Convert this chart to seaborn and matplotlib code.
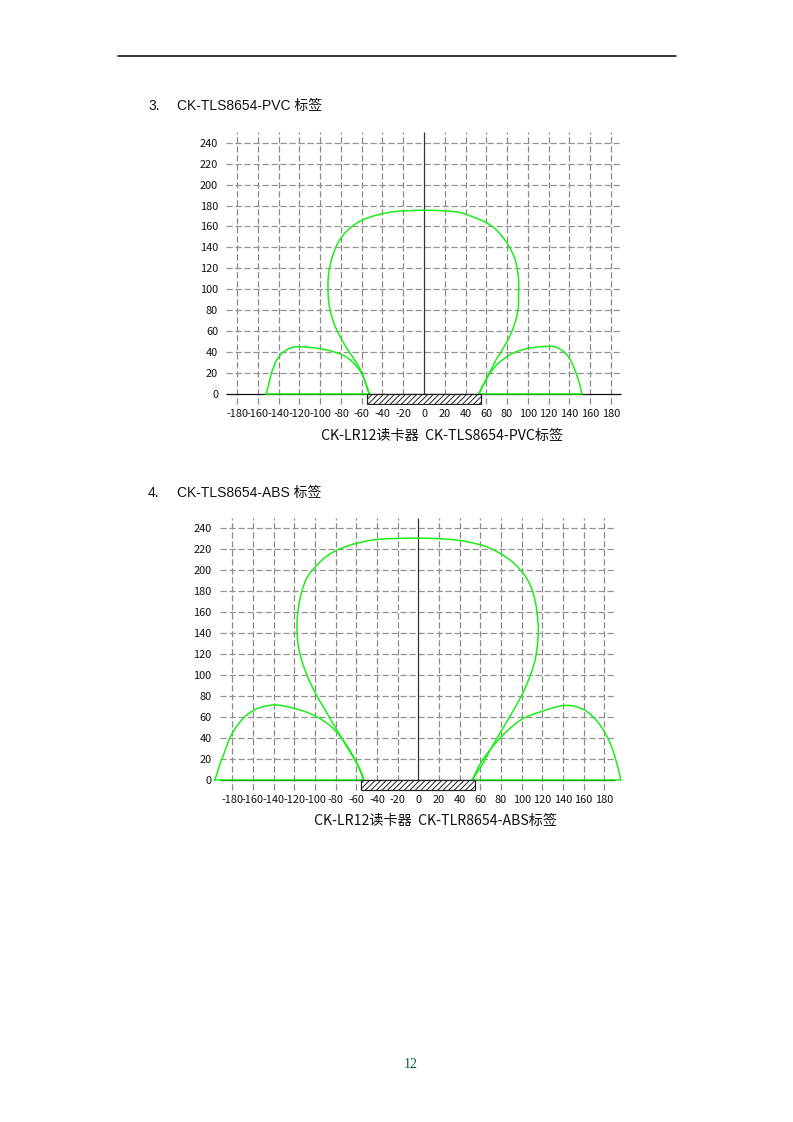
import numpy as np
import pandas as pd
import matplotlib.pyplot as plt
import seaborn as sns
from matplotlib.patches import Rectangle

W, H = 793, 1122

# 3. PVC tag  (units: mm)
pvc_main_x = [-52.8, -55.5, -58.6, -61.5, -65, -69.5, -74.6, -79, -82.6, -85.6, -88, -89.8, -91.2, -92.2, -92.5,
              -92.5, -92.2, -91.3, -90, -88.2, -85.8, -83.6, -81, -77.4, -73, -67.8, -61.8, -55.5, -49, -41,
              -33, -25, -17, -8, 0, 9, 18, 26, 34, 42, 50, 57, 63, 69, 74, 78.5, 82, 85.3, 88, 89.8, 91,
              91.3, 91.2, 91.1, 91, 90, 88.6, 86.5, 84, 80.8, 77.4, 73.5, 69.4, 65.5, 61.4, 57, 52.8]
pvc_main_y = [0, 8, 17, 23.5, 29.6, 36.5, 44, 51.5, 58, 64.5, 71, 77.5, 83.8, 91.5, 99.7,
              106, 112, 118.5, 125, 131.5, 138, 143, 147.5, 152.5, 157, 161.3, 165, 167.7, 170, 172,
              173.6, 174.5, 175, 175.4, 175.5, 175.4, 175, 174.5, 173.6, 171.2, 168, 165.3, 162, 157.5, 152, 146.5, 141, 134.5, 128, 120, 112,
              104, 96.5, 90, 83.8, 77, 71, 64.5, 58, 51.5, 45.5, 39, 32.8, 25, 17, 8.5, 0]
pvc_left_x = [-152, -149, -146.5, -142.7, -139.5, -136.9, -130.5, -126, -122.4, -117, -111.2, -104, -98.4, -91,
              -85.5, -80, -75.9, -71.5, -67.9, -64.5, -61.4, -58.8, -56.6, -54.5, -52.5, -152]
pvc_left_y = [0, 12, 21.7, 31.2, 36, 39.2, 43.3, 44.6, 45.2, 45.1, 44.6, 43.8, 43, 41.5,
              39.8, 38, 36, 33, 29.6, 25.8, 21.7, 17, 12.1, 6, 0, 0]
pvc_right_x = [52.8, 56, 60, 63, 66, 71, 76, 81, 85.4, 92, 100.8, 110, 118, 124, 129, 134, 138, 142, 145,
               148, 150, 152.3, 52.8]
pvc_right_y = [0, 7, 13.7, 19, 23, 29, 33, 36.5, 39, 41.5, 43.8, 45, 45.5, 45.5, 44, 41, 37, 31, 24,
               16, 9, 0, 0]

# 4. ABS tag
abs_main_x = [-52.8, -55.8, -59.2, -63.8, -68.8, -73.6, -78.4, -83.2, -88, -92.8, -97.6, -101.8, -105.6, -109,
              -112, -114.3, -116, -117, -117.4, -117.4, -116.8, -115.6, -114, -111.8, -108.8, -105.2, -100.8,
              -96, -91.2, -85, -78.4, -70.5, -62.4, -53, -43.2, -32, -20.8, -10, 0, 10, 20.8, 32, 43.2, 55,
              65.6, 74, 81.6, 88.5, 94.4, 99.5, 104, 107.5, 110.4, 112.6, 114.2, 115.4, 116.2, 116.1, 115.5,
              114.5, 113, 110.7, 107.8, 104.5, 100.8, 96.2, 91.2, 86.4, 81.6, 76.8, 72, 67.2, 62.4, 57.3, 52.2]
abs_main_y = [0, 7.5, 15.3, 23, 31, 39, 47, 55, 63, 71, 79, 87, 95, 103,
              111, 119, 127, 135, 143, 151, 159, 167, 175, 183, 191, 197, 202,
              207, 211.5, 215.8, 219.5, 222.5, 225, 227.3, 229, 229.9, 230.3, 230.5, 230.6, 230.4, 230, 229.3, 228, 225.5,
              222.6, 218.8, 214.7, 210, 205, 199.5, 194, 187.5, 181, 173, 165, 155.5, 146, 138, 130,
              122, 114, 106, 98, 90, 82, 73.5, 64.8, 56.8, 48.8, 40.9, 32.9, 24.1, 15.3, 7.5, 0]
abs_left_x = [-197, -194.6, -192.3, -189.8, -187.4, -185, -182.6, -179.5, -176, -172, -168, -162.5, -156.8,
              -149, -140.6, -134, -127.7, -121, -114.8, -108, -101.9, -96, -90.6, -85.6, -81, -76.8, -72.9,
              -69.6, -66.5, -63.2, -60, -56, -52.5, -197]
abs_left_y = [0, 7, 14.3, 20.7, 27, 33.5, 39.8, 45.5, 51, 56, 60.5, 64.5, 67.8,
              70.2, 71.7, 71.2, 70, 68.5, 66.9, 64.6, 62, 59.1, 55.7, 52, 47.8, 43.2, 38.2,
              33.5, 28.7, 23, 17.5, 9, 0, 0]
abs_right_x = [52.2, 55, 58, 63.2, 69.5, 76, 82.4, 88.8, 95.2, 101.6, 108, 114.4, 120.8, 127.2, 133.6, 140,
               145, 149.6, 155, 160.8, 166.5, 172, 176.3, 180, 183.4, 186.4, 189, 191.2, 193.4, 194.8, 196, 52.2]
abs_right_y = [0, 6, 12, 20.7, 28.8, 36.6, 43.3, 49.4, 54.5, 58.9, 61.6, 63.7, 65.8, 67.8, 69.6, 71,
               71.1, 70.7, 69.2, 67, 62.7, 57.3, 52, 46.2, 40, 33.4, 26.5, 19.1, 11, 5.5, 0, 0]

# reader antenna block and axes ticks
reader_x = [-55, 55]
reader_depth = -10
x_ticks = list(range(-180, 181, 20))
y_ticks = list(range(0, 241, 20))

titles = [("3.", "CK-TLS8654-PVC 标签"), ("4.", "CK-TLS8654-ABS 标签")]
xlabels = ["CK-LR12读卡器  CK-TLS8654-PVC标签", "CK-LR12读卡器  CK-TLR8654-ABS标签"]

GREEN = "#1aee1a"
LATIN_CJK = ["Liberation Sans", "Noto Sans CJK SC"]

sns.set_theme(style="white")
plt.rcParams["font.family"] = ["Noto Sans CJK SC", "DejaVu Sans"]
plt.rcParams["hatch.linewidth"] = 0.7

fig = plt.figure(figsize=(W / 100, H / 100), dpi=100)


def px_box(left, top, right, bottom):
    return [left / W, 1 - bottom / H, (right - left) / W, (bottom - top) / H]


def draw_chart(ax, xlim, grid_span, lobes, ypad):
    # grille pointillee
    for x in x_ticks:
        if x == 0:
            continue
        ax.vlines(x, reader_depth, 250, colors="#8a8a8a", linestyles=(0, (5, 2.2)), lw=0.9, zorder=1)
    for y in y_ticks[1:]:
        ax.hlines(y, grid_span[0], grid_span[1], colors="#939393", linestyles=(0, (5, 2.2)), lw=0.9, zorder=1)
    ax.vlines(0, 0, 250, colors="#333333", lw=0.9, zorder=2)
    ax.hlines(0, grid_span[0], grid_span[1], colors="#111111", lw=0.9, zorder=2)

    for lx, ly in lobes:
        df = pd.DataFrame({"x": lx, "y": ly})
        sns.lineplot(data=df, x="x", y="y", sort=False, estimator=None, color=GREEN,
                     lw=1.1, ax=ax, zorder=3)
        ax.lines[-1].set_clip_on(False)

    ax.add_patch(Rectangle((reader_x[0], reader_depth), reader_x[1] - reader_x[0], -reader_depth,
                           facecolor="white", edgecolor="#222222", hatch="//////", lw=0.9, zorder=4))

    ax.set_xlim(*xlim)
    ax.set_ylim(-11, 250)
    ax.set_xticks(x_ticks, [str(v) for v in x_ticks])
    ax.set_yticks(y_ticks, [str(v) for v in y_ticks])
    ax.tick_params(axis="x", length=0, pad=2.5, labelsize=7.9, colors="#111111")
    ax.tick_params(axis="y", length=0, pad=ypad, labelsize=7.9, colors="#111111")
    ax.set_xlabel("")
    ax.set_ylabel("")
    for s in ax.spines.values():
        s.set_visible(False)


ax1 = fig.add_axes(px_box(224.7, 132.25, 623.3, 405.5))
draw_chart(ax1, (-192, 192), (-191, 190),
           [(pvc_main_x, pvc_main_y), (pvc_left_x, pvc_left_y), (pvc_right_x, pvc_right_y)], 4.8)

ax2 = fig.add_axes(px_box(212.7, 517.75, 623.9, 791.5))
draw_chart(ax2, (-199, 199), (-192, 190),
           [(abs_main_x, abs_main_y), (abs_left_x, abs_left_y), (abs_right_x, abs_right_y)], 0.8)

# titres de section
for (num, txt), ty in zip(titles, [106, 493]):
    fig.text(148 / W, 1 - ty / H, num, fontsize=10, family=LATIN_CJK, va="center", color="#111111")
    fig.text(177 / W, 1 - ty / H, txt, fontsize=10, family=LATIN_CJK, va="center", color="#111111")

for lab, (cx, cy) in zip(xlabels, [(441.7, 435.7), (435.5, 821)]):
    fig.text(cx / W, 1 - cy / H, lab, fontsize=10.2, ha="center", va="center", color="#111111")

# en-tete et numero de page
fig.add_artist(plt.Line2D([118 / W, 676 / W], [1 - 56 / H, 1 - 56 / H], color="black", lw=1.1))
fig.text(411 / W, 1 - 1064 / H, "12", fontsize=10, family="Liberation Serif", ha="center", va="center",
         color="#0b5a4a")

fig.savefig("out.png", dpi=100)
